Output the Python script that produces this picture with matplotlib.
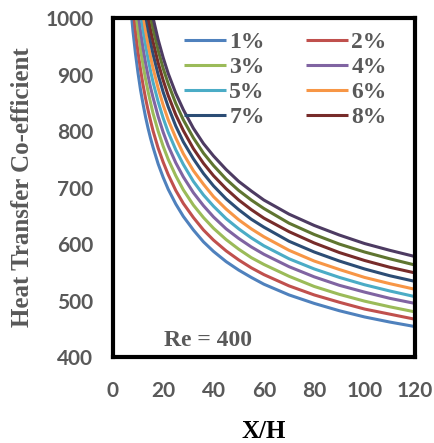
import matplotlib
matplotlib.use('Agg')
import matplotlib.pyplot as plt

# X/H stations shared by every concentration curve
xh = [6, 7, 8, 9, 10, 11, 12, 13, 14, 15, 16, 18, 20, 22, 25, 28, 32, 36,
      40, 45, 50, 55, 60, 70, 80, 90, 100, 110, 120]

h_1 = [1086, 1026, 977, 937, 903, 873, 848, 825, 805, 787, 771, 742, 718, 697, 671,
       649, 625, 604, 587, 569, 554, 541, 529, 510, 495, 482, 471, 462, 454]
h_2 = [1133, 1069, 1018, 976, 940, 909, 882, 858, 837, 818, 800, 770, 745, 723, 695,
       672, 647, 625, 607, 588, 572, 558, 546, 526, 510, 497, 485, 476, 467]
h_3 = [1182, 1115, 1061, 1016, 978, 945, 917, 892, 870, 850, 831, 800, 773, 750, 721,
       696, 669, 647, 628, 608, 591, 576, 564, 543, 525, 511, 499, 489, 480]
h_4 = [1221, 1152, 1096, 1050, 1010, 977, 947, 921, 898, 877, 859, 826, 798, 774, 744,
       719, 691, 668, 648, 627, 610, 595, 582, 560, 542, 527, 515, 504, 495]
h_5 = [1265, 1192, 1134, 1086, 1045, 1010, 979, 952, 928, 906, 886, 852, 823, 798, 767,
       741, 711, 687, 667, 645, 627, 611, 597, 574, 556, 541, 528, 517, 507]
h_6 = [1300, 1226, 1166, 1116, 1074, 1038, 1006, 978, 953, 931, 911, 876, 846, 820, 788,
       760, 730, 706, 684, 662, 643, 627, 613, 589, 570, 555, 541, 530, 520]
h_7 = [1337, 1260, 1198, 1147, 1104, 1067, 1034, 1005, 980, 957, 936, 900, 869, 843, 809,
       781, 751, 725, 703, 680, 661, 644, 630, 605, 586, 570, 556, 544, 534]
h_8 = [1366, 1288, 1225, 1173, 1129, 1091, 1058, 1028, 1002, 979, 958, 921, 890, 863, 829,
       801, 769, 743, 721, 698, 678, 661, 646, 622, 602, 585, 571, 559, 549]
h_9 = [1398, 1318, 1254, 1200, 1155, 1116, 1083, 1053, 1026, 1002, 981, 943, 911, 884, 849,
       820, 788, 761, 739, 715, 695, 678, 663, 637, 617, 600, 586, 574, 563]
h_10 = [1421, 1340, 1275, 1222, 1176, 1137, 1103, 1073, 1046, 1022, 1000, 962, 930, 902, 867,
        838, 805, 778, 756, 732, 711, 694, 678, 653, 633, 616, 601, 589, 578]

series = [h_1, h_2, h_3, h_4, h_5, h_6, h_7, h_8, h_9, h_10]
labels = ['1%', '2%', '3%', '4%', '5%', '6%', '7%', '8%', None, None]
colors = ['#4F81BD', '#C0504D', '#9BBB59', '#8064A2', '#4BACC6',
          '#F79646', '#2C4D75', '#772C2A', '#5F7530', '#4D3B62']

grey = '#595959'
serif = 'Liberation Serif'

fig = plt.figure(figsize=(4.34, 4.43), dpi=100)
ax = fig.add_axes([0.260, 0.194, 0.696, 0.765])

handles = []
for ys, lab, c in zip(series, labels, colors):
    ln, = ax.plot(xh, ys, color=c, lw=2.2, solid_capstyle='butt',
                  solid_joinstyle='round')
    if lab:
        handles.append((ln, lab))

ax.set_xlim(0, 120)
ax.set_ylim(400, 1000)
ax.set_xticks(range(0, 121, 20))
ax.set_yticks(range(400, 1001, 100))
ax.tick_params(length=0, labelsize=15, labelcolor=grey)
ax.tick_params(axis='y', pad=14)
ax.tick_params(axis='x', pad=17)
for t in ax.get_xticklabels() + ax.get_yticklabels():
    t.set_fontfamily('Lato')
    t.set_fontweight('bold')
for s in ax.spines.values():
    s.set_linewidth(3)
    s.set_color('black')

ax.set_xlabel('X/H', family=serif, weight='bold', fontsize=18,
              color='black', labelpad=14)
ax.set_ylabel('Heat Transfer Co-efficient', family=serif, weight='bold',
              fontsize=18, color=grey, labelpad=8)

ax.text(0.168, 0.05, 'Re = 400', transform=ax.transAxes, family=serif,
        weight='bold', fontsize=17, color=grey, va='center')

# legend reads across rows: 1% 2% / 3% 4% / ...
order = [0, 2, 4, 6, 1, 3, 5, 7]
leg = ax.legend([handles[i][0] for i in order], [handles[i][1] for i in order],
                ncol=2, loc='upper left', bbox_to_anchor=(0.235, 0.96),
                frameon=False, borderpad=0, borderaxespad=0,
                handlelength=1.8, handletextpad=0.12, columnspacing=1.75,
                labelspacing=0.15,
                prop={'family': serif, 'weight': 'bold', 'size': 17})
for t in leg.get_texts():
    t.set_color(grey)

fig.savefig('out.png', dpi=100)
